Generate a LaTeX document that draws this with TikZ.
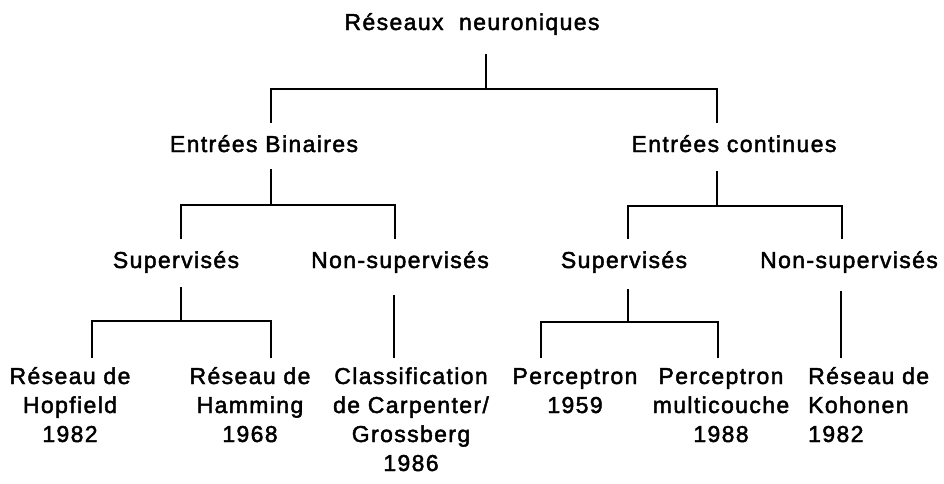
\documentclass[tikz,border=0pt]{standalone}
\usepackage{fontspec}
\setmainfont[LetterSpace=6, FakeBold=2]{Liberation Sans}

\begin{document}
\begin{tikzpicture}[x=1pt, y=-1pt,
  lbl/.style={font=\fontsize{23}{29}\selectfont, inner sep=0pt, anchor=base, align=center},
  tie/.style={line width=2.6pt, line cap=rect}]
  \useasboundingbox (0,0) rectangle (944,483);

  % Labels, level by level (multi-line ones sit on their last baseline).
  \node[lbl] (root) at (472,30) {Réseaux\ \ neuroniques};
  \node[lbl] (bin) at (264,152) {Entrées Binaires};
  \node[lbl] (con) at (734,152) {Entrées continues};
  \node[lbl] (supL) at (176,268) {Supervisés};
  \node[lbl] (nonL) at (400,268) {Non-supervisés};
  \node[lbl] (supR) at (624,268) {Supervisés};
  \node[lbl] (nonR) at (849,268) {Non-supervisés};
  \node[lbl] (hop) at (70,442) {Réseau de\\Hopfield\\1982};
  \node[lbl] (ham) at (250,442) {Réseau de\\Hamming\\1968};
  \node[lbl] (cla) at (411,471) {Classification\\de Carpenter/\\Grossberg\\1986};
  \node[lbl] (pe1) at (575,413) {Perceptron\\1959};
  \node[lbl] (pe2) at (721,442) {Perceptron\\multicouche\\1988};
  \node[lbl, anchor=base west, align=left] (koh) at (808,442) {Réseau de\\Kohonen\\1982};

  % Stem tops, bar junctions and leg ends.
  \coordinate (root-t) at (486,55);
  \coordinate (root-j) at (486,89);
  \coordinate (bin-in) at (271,122);
  \coordinate (con-in) at (717,122);
  \coordinate (bin-t) at (271,170);
  \coordinate (bin-j) at (271,205);
  \coordinate (con-t) at (717,172);
  \coordinate (con-j) at (717,206);
  \coordinate (supL-in) at (181,238);
  \coordinate (nonL-in) at (395,238);
  \coordinate (supR-in) at (628,238);
  \coordinate (nonR-in) at (842,238);
  \coordinate (supL-t) at (181,288);
  \coordinate (supL-j) at (181,321);
  \coordinate (supR-t) at (628,290);
  \coordinate (supR-j) at (628,322);
  \coordinate (nonL-t) at (394,296);
  \coordinate (nonR-t) at (841,292);
  \coordinate (hop-in) at (92,357);
  \coordinate (ham-in) at (271,357);
  \coordinate (cla-in) at (394,357);
  \coordinate (pe1-in) at (541,357);
  \coordinate (pe2-in) at (718,357);
  \coordinate (koh-in) at (841,357);

  % Stems.
  \foreach \n in {root,bin,con,supL,supR}
    \draw[tie] (\n-t) -- (\n-j);
  \draw[tie] (nonL-t) -- (cla-in);
  \draw[tie] (nonR-t) -- (koh-in);

  % Bars with their two legs.
  \foreach \a/\j/\b in {bin/root/con, supL/bin/nonL, supR/con/nonR, hop/supL/ham, pe1/supR/pe2}
    \draw[tie] (\a-in) |- (\j-j) -| (\b-in);
\end{tikzpicture}
\end{document}
